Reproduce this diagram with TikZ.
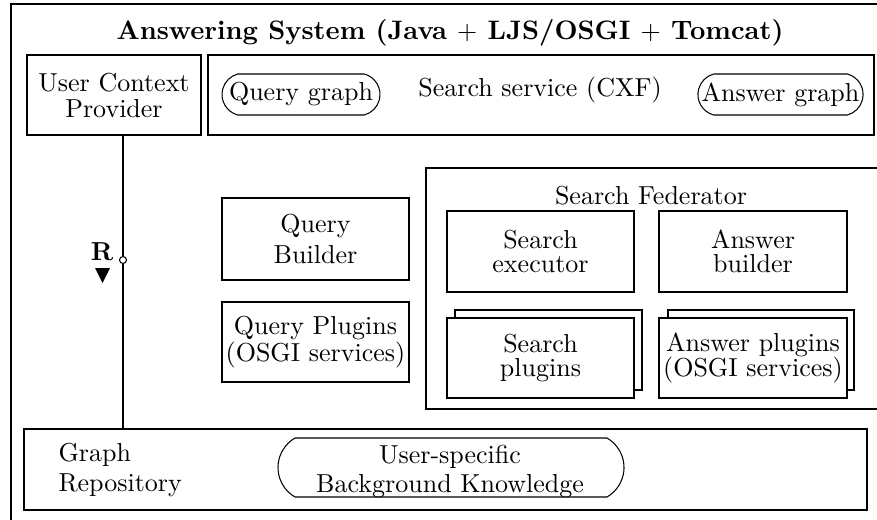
\documentclass[tikz,border=0pt]{standalone}
\usetikzlibrary{shapes.misc}
\begin{document}
\begin{tikzpicture}[x=0.3846pt,y=-0.3846pt,
  box/.style={draw, inner sep=0pt, align=center},
  lsk/.style={font=\fontsize{10}{#1}\selectfont},
  sz/.style 2 args={minimum width=#1*0.3846pt, minimum height=#2*0.3846pt},
  pill/.style={draw, rounded rectangle, rounded rectangle arc length=150, inner sep=0pt, align=center}]
\useasboundingbox (0,0) rectangle (877,519);
\clip (0,0) rectangle (877,519);
% outer frame (cropped at right and bottom)
\node[draw, inner sep=0pt, sz={880}{530}] (outer) at (451,269) {};
\node[font=\fontsize{10.28}{12}\selectfont\bfseries] (title) at (450,33) {Answering System (Java $+$ LJS/OSGI $+$ Tomcat)};
% top row
\node[box, lsk=10, sz={174}{80}] (ucp) at (114,95) {User Context\\Provider};
\node[box, sz={666}{80}] (ss) at (541,95) {};
\node (sstext) at (540,90) {Search service (CXF)};
\node[pill, sz={158}{41}] (qg) at (301,94.5) {Query graph};
\node[pill, sz={161}{41}] (ag) at (780.5,94.5) {Answer graph};
% query side
\node[box, lsk=12, sz={187}{82}] (qb) at (315.5,239) {Query\\Builder};
\node[box, lsk=10.5, sz={187}{80}] (qp) at (315.5,342) {Query Plugins\\(OSGI services)};
% search federator
\node[draw, inner sep=0pt, sz={452}{241}] (sf) at (652,288.5) {};
\node (sftext) at (651,196) {Search Federator};
\node[box, lsk=9, sz={187}{81}] (se) at (540.5,251.5) {Search\\executor};
\node[box, lsk=9, sz={188}{81}] (ab) at (753,251.5) {Answer\\builder};
\node[box, sz={187}{80}] (spb) at (548.5,350) {};
\node[box, lsk=9, fill=white, sz={187}{80}] (sp) at (540.5,358) {Search\\plugins};
\node[box, sz={186}{80}] (apb) at (761,350) {};
\node[box, lsk=9.6, fill=white, sz={188}{80}] (ap) at (753,358) {Answer plugins\\(OSGI services)};
% graph repository
\node[draw, inner sep=0pt, sz={843}{81}] (gr) at (445.5,469.5) {};
\node[align=left, anchor=west, inner sep=0pt, lsk=11.5] (grtext) at (58,470) {Graph\\Repository};
\node[pill, rounded rectangle arc length=120, sz={346}{59}] (ubk) at (451,467.5) {};
\node[align=center, inner sep=0pt, lsk=11.5] (ubktext) at (450,471.5) {User-specific\\Background Knowledge};
% R connector
\node[draw, circle, fill=white, inner sep=0pt, minimum size=7*0.3846pt] (rc) at (123,260) {};
\draw (ucp.south -| rc) -- (rc.north);
\draw (rc.south) -- (rc.south |- gr.north);
\node[font=\bfseries] (rlabel) at (102,252) {R};
\fill (95,268) -- (110,268) -- (102.5,283) -- cycle;
\end{tikzpicture}
\end{document}
